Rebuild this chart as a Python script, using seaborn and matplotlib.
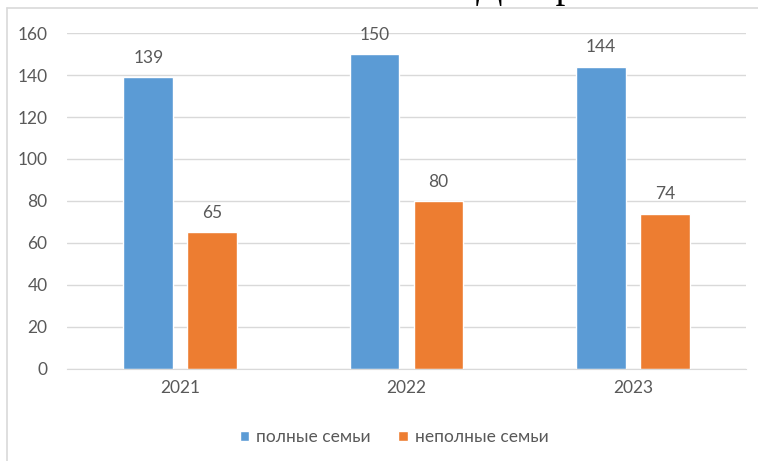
import pandas as pd
import seaborn as sns
import matplotlib.pyplot as plt
from matplotlib.lines import Line2D

# Data
years = ['2021', '2022', '2023']
full_families = [139, 150, 144]
single_parent = [65, 80, 74]
series_names = ['полные семьи', 'неполные семьи']

df = pd.DataFrame({
    'year': years * 2,
    'value': full_families + single_parent,
    'family': [series_names[0]] * 3 + [series_names[1]] * 3,
})

sns.set_style('white')
plt.rcParams['font.family'] = ['Lato', 'DejaVu Sans']

fig = plt.figure(figsize=(7.58, 4.61), dpi=100)
ax = fig.add_axes([0.0884, 0.1996, 0.8958, 0.7288])

sns.barplot(data=df, x='year', y='value', hue='family',
            palette=['#5B9BD5', '#ED7D31'], saturation=1,
            width=0.564, gap=0.22, ax=ax, legend=True)

grey = '#595959'
fs = 12.5
for c in ax.containers:
    ax.bar_label(c, padding=8, fontsize=fs, color=grey)

ax.set_ylim(0, 160)
ax.set_yticks(range(0, 161, 20))
ax.yaxis.grid(True, color='#d9d9d9', linewidth=1)
ax.set_axisbelow(True)
ax.set_xlabel('')
ax.set_ylabel('')
for side in ['top', 'right', 'left']:
    ax.spines[side].set_visible(False)
ax.spines['bottom'].set_color('#d9d9d9')
ax.tick_params(axis='both', length=0, labelsize=fs, labelcolor=grey)
ax.tick_params(axis='y', pad=14)
ax.tick_params(axis='x', pad=8)

# legend
handles, labels = ax.get_legend_handles_labels()
ax.get_legend().remove()
fig.legend(handles, labels, loc='center', bbox_to_anchor=(0.52, 0.052),
           ncol=2, frameon=False, fontsize=fs, labelcolor=grey,
           handlelength=0.55, handleheight=0.55, handletextpad=0.4,
           columnspacing=1.6)

# chart frame (top and left edges visible in the crop)
fig.add_artist(Line2D([7 / 758, 7 / 758], [0, 1 - 8 / 461],
                      transform=fig.transFigure, color='#d9d9d9', lw=1.2))
fig.add_artist(Line2D([7 / 758, 1], [1 - 8 / 461, 1 - 8 / 461],
                      transform=fig.transFigure, color='#d9d9d9', lw=1.2))

# cut-off document heading above the chart
fig.text(476 / 758, 1 + 3 / 461, 'Диаграмма', family='Liberation Serif',
         fontsize=28, va='baseline', ha='left', color='black')

fig.savefig('out.png', dpi=100)
